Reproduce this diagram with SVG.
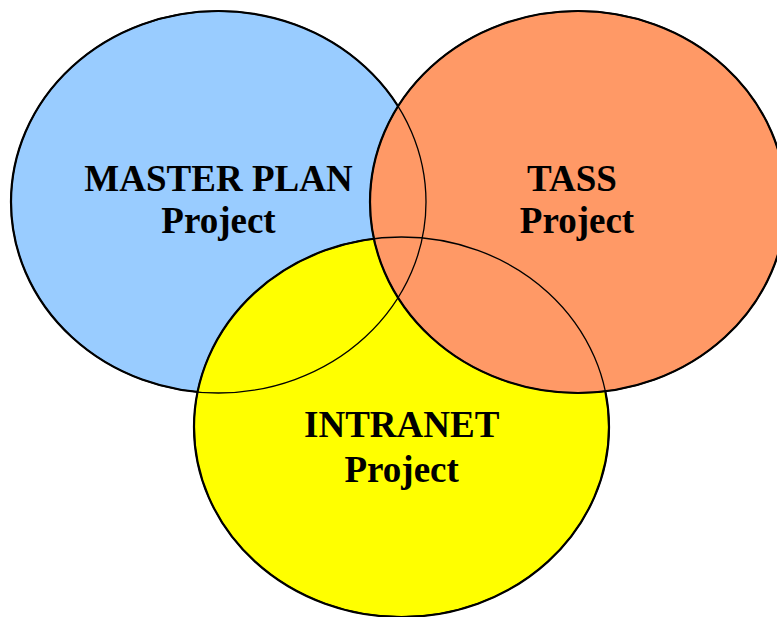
<svg xmlns="http://www.w3.org/2000/svg" xmlns:xlink="http://www.w3.org/1999/xlink" width="777" height="617" viewBox="0 0 777 617">
  <style>
    .disc { stroke: #000; stroke-width: 2.2; }
    .edge { fill: none; stroke: #000; stroke-width: 1.3; }
    .blue { fill: #99CCFF; }
    .yellow { fill: #FFFF00; }
    .orange { fill: #FF9966; }
    .label { font-family: "Liberation Serif", "Times New Roman", serif; font-weight: bold; font-size: 37px; fill: #000; text-anchor: middle; }
  </style>
  <defs>
    <!-- shared ellipse geometry: filled once per node, outlined again on top -->
    <ellipse id="shape-master" cx="218.5" cy="202" rx="207.5" ry="191"/>
    <ellipse id="shape-intranet" cx="401.5" cy="427" rx="207.5" ry="190"/>
    <ellipse id="shape-tass" cx="578" cy="202" rx="208" ry="191"/>
  </defs>

  <g id="node-master-plan">
    <use href="#shape-master" xlink:href="#shape-master" class="disc blue"/>
    <text class="label" x="218.5" y="190.7">MASTER PLAN</text>
    <text class="label" x="218.5" y="233.3">Project</text>
  </g>

  <g id="node-intranet">
    <use href="#shape-intranet" xlink:href="#shape-intranet" class="disc yellow"/>
    <text class="label" x="401.7" y="437.3">INTRANET</text>
    <text class="label" x="401.7" y="481.7">Project</text>
  </g>

  <g id="node-tass">
    <use href="#shape-tass" xlink:href="#shape-tass" class="disc orange"/>
    <text class="label" x="572" y="190.7">TASS</text>
    <text class="label" x="577" y="233.3">Project</text>
  </g>

  <!-- thin outlines drawn over all fills so every overlap boundary shows -->
  <g id="outlines">
    <use href="#shape-master" xlink:href="#shape-master" class="edge"/>
    <use href="#shape-intranet" xlink:href="#shape-intranet" class="edge"/>
    <use href="#shape-tass" xlink:href="#shape-tass" class="edge"/>
  </g>
</svg>
